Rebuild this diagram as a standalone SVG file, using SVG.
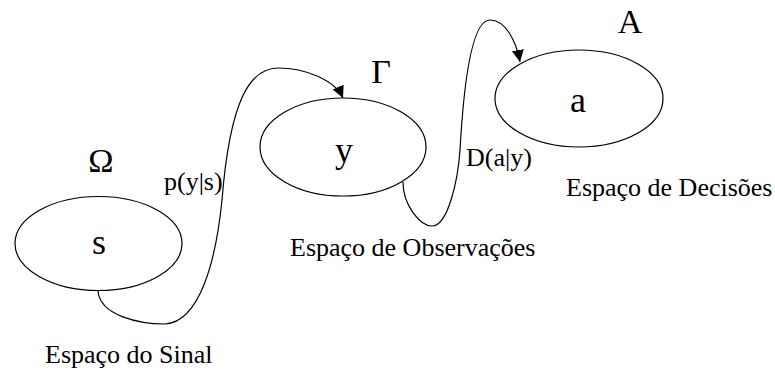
<svg xmlns="http://www.w3.org/2000/svg" width="775" height="372" viewBox="0 0 775 372">
<defs>
<style>
.node{fill:#fff;stroke:#000;stroke-width:1.2}
.edge{fill:none;stroke:#000;stroke-width:1.2}
</style>
<marker id="arr" markerWidth="12" markerHeight="12" refX="10" refY="5" orient="auto" markerUnits="userSpaceOnUse" viewBox="0 0 10 10">
<path d="M0,0 L10,5 L0,10 z" fill="#000"/>
</marker>
</defs>
<rect width="775" height="372" fill="#fff"/>
<g id="connectors">
<path class="edge" d="M98,291 C100,316 140,324 165,324 C200,322 216,260 222,200 C230,100 250,68 278,68 C305,68 335,80 343,98" marker-end="url(#arr)"/>
<path class="edge" d="M403,182 C403,205 420,226 432,226 C448,226 458,180 460,150 C465,60 475,20 490,20 C505,20 516,40 520,62" marker-end="url(#arr)"/>
<text x="164" y="190" font-family="Liberation Serif" font-size="26">p(y|s)</text>
<text x="466" y="166" font-family="Liberation Serif" font-size="26">D(a|y)</text>
</g>
<g id="node-s">
<ellipse class="node" cx="98.5" cy="243.5" rx="83.5" ry="47"/>
<text x="99" y="254" font-family="Liberation Serif" font-size="36" text-anchor="middle">s</text>
<text x="101" y="172" font-family="Liberation Serif" font-size="34" text-anchor="middle">Ω</text>
<text x="45" y="363" font-family="Liberation Serif" font-size="26">Espaço do Sinal</text>
</g>
<g id="node-y">
<ellipse class="node" cx="343" cy="147" rx="83" ry="49"/>
<text x="344" y="162" font-family="Liberation Serif" font-size="36" text-anchor="middle">y</text>
<text x="381" y="83" font-family="Liberation Serif" font-size="34" text-anchor="middle">Γ</text>
<text x="290" y="256" font-family="Liberation Serif" font-size="26">Espaço de Observações</text>
</g>
<g id="node-a">
<ellipse class="node" cx="579" cy="98.5" rx="84" ry="48.5"/>
<text x="578" y="112" font-family="Liberation Serif" font-size="36" text-anchor="middle">a</text>
<text x="630" y="33" font-family="Liberation Serif" font-size="34" text-anchor="middle">A</text>
<text x="566" y="196" font-family="Liberation Serif" font-size="26">Espaço de Decisões</text>
</g>
</svg>
